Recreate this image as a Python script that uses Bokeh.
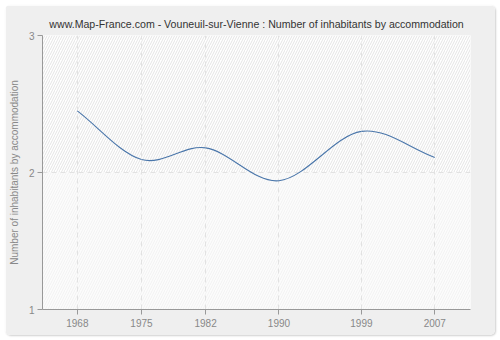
import numpy as np
from bokeh.plotting import figure
from bokeh.models import BoxAnnotation, Range1d, FixedTicker
from bokeh.embed import file_html
from bokeh.resources import INLINE

# Data
title_text = "www.Map-France.com - Vouneuil-sur-Vienne : Number of inhabitants by accommodation"
y_label = "Number of inhabitants by accommodation"
years = [1968, 1975, 1982, 1990, 1999, 2007]
values = [2.45, 2.095, 2.18, 1.94, 2.30, 2.11]
y_ticks = [1, 2, 3]

FONT = "Liberation Sans"

p = figure(width=490, height=330, output_backend="svg", toolbar_location=None,
           x_range=Range1d(1964.2, 2010.9), y_range=Range1d(1, 3),
           min_border_left=35, min_border_right=25, min_border_top=30, min_border_bottom=26)
p.margin = (5, 5, 5, 5)
p.styles = {"border-radius": "5px", "overflow": "hidden",
            "box-shadow": "1px 1px 2px #d0d0d0"}
p.border_fill_color = "#efefef"
p.background_fill_color = "#fcfcfc"
p.outline_line_color = None

# Title
p.title.text = title_text
p.title.align = "center"
p.title.vertical_align = "top"
p.title.offset = 22
p.title.text_font = FONT
p.title.text_font_size = "10.6px"
p.title.text_font_style = "normal"
p.title.text_color = "#333333"
p.title.standoff = 8

# Background bands
upper = BoxAnnotation(bottom=2, top=3, fill_color="white", fill_alpha=1,
                      hatch_pattern="/", hatch_color="#e4e4e4", hatch_scale=5, hatch_weight=1,
                      line_color=None, level="image")
lower = BoxAnnotation(bottom=1, top=2, fill_color="#fcfcfc", fill_alpha=1,
                      hatch_pattern="/", hatch_color="#f2f2f2", hatch_scale=5, hatch_weight=1,
                      line_color=None, level="image")
p.add_layout(upper)
p.add_layout(lower)

# Smooth curve (Hermite -> Bezier) from data
xs = np.array(years, dtype=float)
ys = np.array(values, dtype=float)
n = len(xs)
m = np.zeros(n)
for i in range(n):
    if i == 0:
        m[i] = (ys[1] - ys[0]) / (xs[1] - xs[0])
    elif i == n - 1:
        m[i] = (ys[-1] - ys[-2]) / (xs[-1] - xs[-2])
    else:
        m[i] = (ys[i + 1] - ys[i - 1]) / (xs[i + 1] - xs[i - 1])
h = xs[1:] - xs[:-1]
p.bezier(x0=xs[:-1], y0=ys[:-1], x1=xs[1:], y1=ys[1:],
         cx0=xs[:-1] + h / 3, cy0=ys[:-1] + m[:-1] * h / 3,
         cx1=xs[1:] - h / 3, cy1=ys[1:] - m[1:] * h / 3,
         line_color="#4a76aa", line_width=1.1)

# Axes
p.xaxis.ticker = FixedTicker(ticks=years)
p.yaxis.ticker = FixedTicker(ticks=y_ticks)
p.yaxis.axis_label = y_label
for ax in (p.xaxis[0], p.yaxis[0]):
    ax.axis_line_color = "#999999"
    ax.major_tick_line_color = "#999999"
    ax.major_tick_out = 5
    ax.major_tick_in = 0
    ax.minor_tick_line_color = None
    ax.major_label_text_font = FONT
    ax.major_label_text_font_size = "10px"
    ax.major_label_text_color = "#888888"
    ax.axis_label_text_font = FONT
    ax.axis_label_text_font_size = "10px"
    ax.axis_label_text_font_style = "normal"
    ax.axis_label_text_color = "#888888"
p.yaxis.major_label_standoff = 3
p.yaxis.axis_label_standoff = 6
p.xaxis.major_label_standoff = 4

# Grid
p.xgrid.grid_line_color = "#e2e2e2"
p.xgrid.grid_line_dash = "5 4"
p.ygrid.grid_line_color = "#e2e2e2"
p.ygrid.grid_line_dash = "5 4"

open("out.html", "w").write(file_html(p, INLINE))
